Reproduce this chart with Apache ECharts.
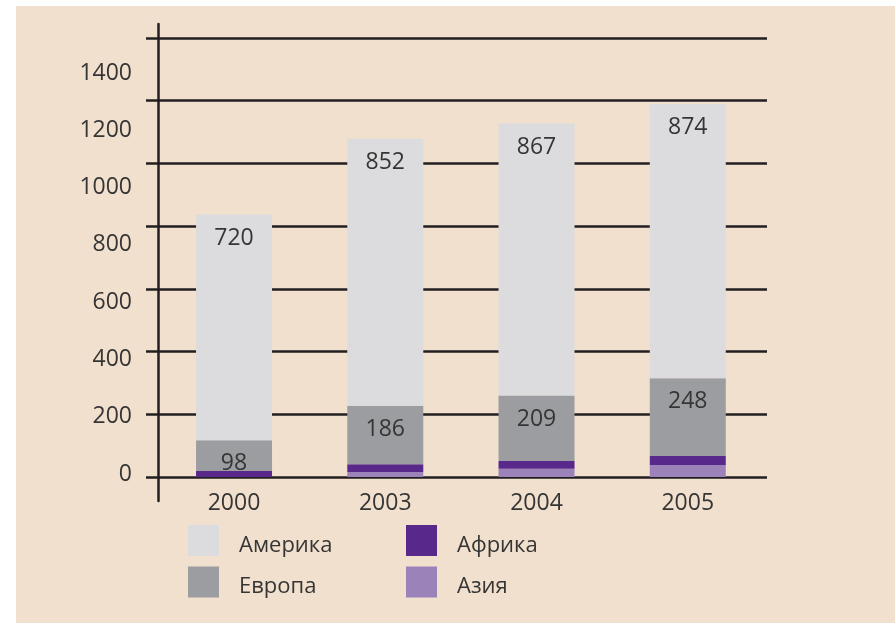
<!DOCTYPE html>
<html>
<head>
<meta charset="utf-8">
<script src="https://cdn.jsdelivr.net/npm/echarts@6/dist/echarts.min.js"></script>
<style>
  html, body { margin: 0; padding: 0; background: #ffffff; }
  #bg { position: absolute; left: 16px; top: 6px; width: 879px; height: 617px; background: #f1e0cd; }
  #main { position: absolute; left: 0; top: 0; width: 895px; height: 623px; }
</style>
</head>
<body>
<div id="bg"></div>
<div id="main"></div>
<script>
var years = ['2000', '2003', '2004', '2005'];
var america = [720, 852, 867, 874];
var europe = [98, 186, 209, 248];
var africa = [19, 25, 25, 29];
var asia = [0, 16, 26, 38];

var font = '"Open Sans", sans-serif';
var txt = '#353535';
var ink = '#231f20';

var myChart = echarts.init(document.getElementById('main'), null, { renderer: 'canvas' });

var labelStyle = {
  show: true,
  position: 'insideTop',
  distance: 12,
  color: txt,
  fontFamily: font,
  fontSize: 23
};

// legend text sits a bit lower than the swatch centre and further from it
var legendText = {
  color: txt, fontSize: 22, fontFamily: font,
  rich: { n: { color: txt, fontSize: 22, fontFamily: font, padding: [10, 0, 0, 15] } }
};
var legendFmt = function (name) { return '{n|' + name + '}'; };

var option = {
  backgroundColor: 'transparent',
  animation: false,
  textStyle: { fontFamily: font },
  legend: [
    {
      left: 188, top: 525, orient: 'vertical', padding: 0,
      itemWidth: 31, itemHeight: 31, itemGap: 10, icon: 'rect',
      data: ['Америка', 'Европа'],
      formatter: legendFmt, textStyle: legendText
    },
    {
      left: 406, top: 525, orient: 'vertical', padding: 0,
      itemWidth: 31, itemHeight: 31, itemGap: 10, icon: 'rect',
      data: ['Африка', 'Азия'],
      formatter: legendFmt, textStyle: legendText
    }
  ],
  grid: [
    // bars
    { left: 158.4, right: 131.6, top: 38, bottom: 146 },
    // horizontal rules
    { left: 146, right: 128, top: 38, bottom: 146 },
    // tick labels (sit a little off the rules, as in the original)
    { left: 158, right: 128, top: 73, bottom: 149 },
    // vertical axis line
    { left: 158, right: 128, top: 24, bottom: 122 }
  ],
  xAxis: [
    {
      gridIndex: 0, type: 'category', data: years,
      axisLine: { show: false }, axisTick: { show: false },
      axisLabel: { color: txt, fontSize: 23, fontFamily: font, margin: 15 }
    },
    { gridIndex: 1, type: 'value', show: false },
    { gridIndex: 2, type: 'value', show: false },
    { gridIndex: 3, type: 'value', show: false }
  ],
  yAxis: [
    { gridIndex: 0, type: 'value', min: 0, max: 1400, interval: 200, show: false },
    {
      gridIndex: 1, type: 'value', min: 0, max: 1400, interval: 200,
      axisLine: { show: false }, axisTick: { show: false }, axisLabel: { show: false },
      splitLine: { show: true, lineStyle: { color: ink, width: 2.5 } }
    },
    {
      gridIndex: 2, type: 'value', min: 0, max: 1400, interval: 200,
      axisLine: { show: false }, axisTick: { show: false }, splitLine: { show: false },
      axisLabel: {
        color: txt, fontSize: 23, fontFamily: font, margin: 26,
        formatter: function (v) { return String(v); }
      }
    },
    {
      gridIndex: 3, type: 'value', min: 0, max: 100,
      axisLine: { show: true, lineStyle: { color: ink, width: 2.5 } },
      axisTick: { show: false }, axisLabel: { show: false }, splitLine: { show: false }
    }
  ],
  series: [
    {
      name: 'Азия', type: 'bar', stack: 'total', xAxisIndex: 0, yAxisIndex: 0,
      barWidth: 76, itemStyle: { color: '#9b83ba' }, data: asia
    },
    {
      name: 'Африка', type: 'bar', stack: 'total', xAxisIndex: 0, yAxisIndex: 0,
      barWidth: 76, itemStyle: { color: '#58298a' }, data: africa
    },
    {
      name: 'Европа', type: 'bar', stack: 'total', xAxisIndex: 0, yAxisIndex: 0,
      barWidth: 76, itemStyle: { color: '#9c9da0' }, label: labelStyle, data: europe
    },
    {
      name: 'Америка', type: 'bar', stack: 'total', xAxisIndex: 0, yAxisIndex: 0,
      barWidth: 76, itemStyle: { color: '#dcdcde' }, label: labelStyle, data: america
    }
  ]
};
myChart.setOption(option);
</script>
</body>
</html>
